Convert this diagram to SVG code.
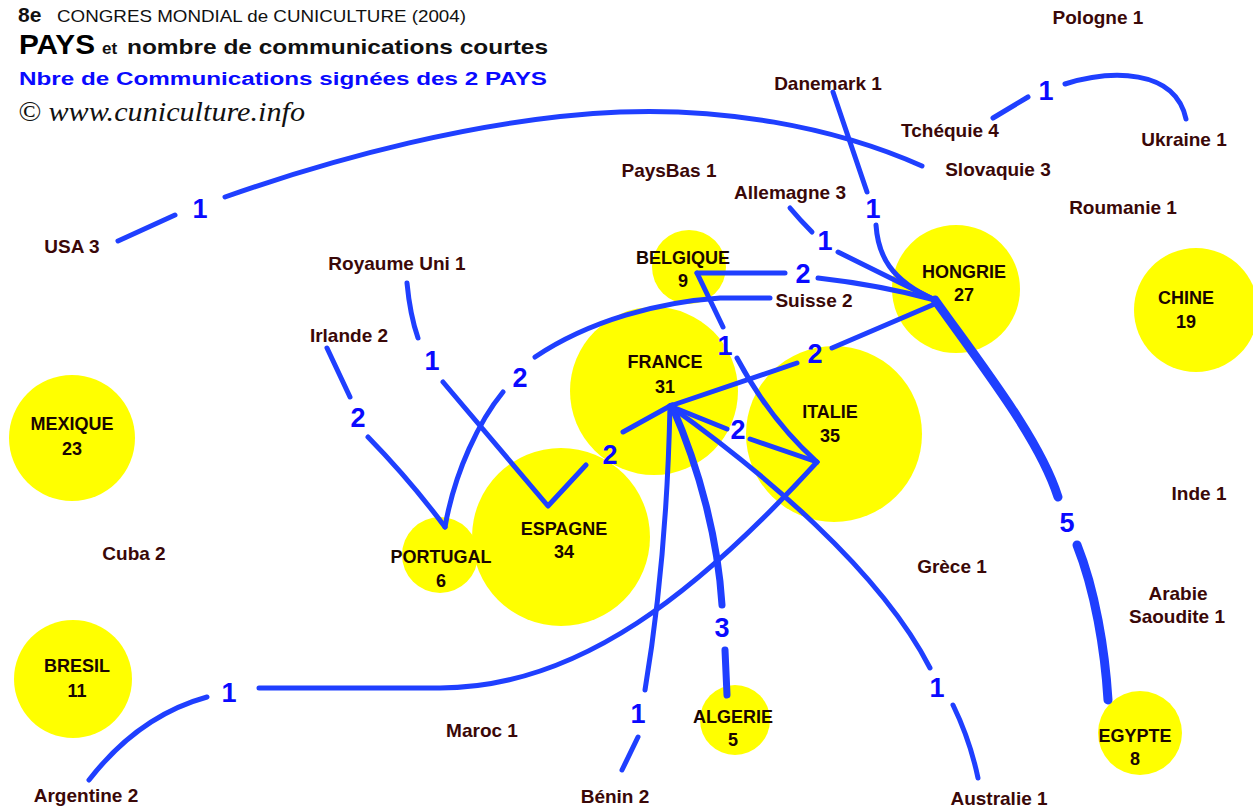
<svg xmlns="http://www.w3.org/2000/svg" width="1253" height="810" viewBox="0 0 1253 810">
<style>
.bg{fill:#ffffff}
.c{fill:#ffff00;stroke:none}
.cl{font-family:"Liberation Sans",Arial,sans-serif;font-weight:bold;font-size:18px;fill:#1a0500;text-anchor:middle}
.lb{font-family:"Liberation Sans",Arial,sans-serif;font-weight:bold;font-size:19px;fill:#3a0808;text-anchor:middle}
.e{fill:none;stroke:#1f3fff;stroke-width:5;stroke-linecap:round;stroke-linejoin:round}
.e7{stroke-width:7}
.e9{stroke-width:9}
.n{font-family:"Liberation Sans",Arial,sans-serif;font-weight:bold;font-size:27px;fill:#0a0aff;text-anchor:middle}
</style>
<rect class="bg" x="0" y="0" width="1253" height="810"/>

<g id="header">
  <text x="18" y="22" font-family="Liberation Sans,Arial,sans-serif" font-weight="bold" font-size="21" fill="#111">8e</text>
  <text x="57" y="22" font-family="Liberation Sans,Arial,sans-serif" font-size="17" fill="#111" textLength="409" lengthAdjust="spacingAndGlyphs">CONGRES MONDIAL de CUNICULTURE (2004)</text>
  <text x="19" y="54" font-family="Liberation Sans,Arial,sans-serif" font-weight="bold" font-size="28" fill="#000" textLength="76" lengthAdjust="spacingAndGlyphs">PAYS</text>
  <text x="102" y="54" font-family="Liberation Sans,Arial,sans-serif" font-weight="bold" font-size="17" fill="#111">et</text>
  <text x="127" y="54" font-family="Liberation Sans,Arial,sans-serif" font-weight="bold" font-size="21" fill="#111" textLength="421" lengthAdjust="spacingAndGlyphs">nombre de communications courtes</text>
  <text x="19" y="85" font-family="Liberation Sans,Arial,sans-serif" font-weight="bold" font-size="18" fill="#0a0aff" textLength="528" lengthAdjust="spacingAndGlyphs">Nbre de Communications signées des 2 PAYS</text>
  <text x="18" y="121" font-family="Liberation Serif,Times New Roman,serif" font-style="italic" font-size="27" fill="#111" textLength="287" lengthAdjust="spacingAndGlyphs">© www.cuniculture.info</text>
</g>

<g id="circles">
  <circle id="c-mexique" class="c" cx="72" cy="438" r="63"/>
  <circle id="c-bresil" class="c" cx="73" cy="679" r="59"/>
  <circle id="c-belgique" class="c" cx="689" cy="267" r="37"/>
  <circle id="c-france" class="c" cx="654" cy="391" r="84"/>
  <circle id="c-italie" class="c" cx="834" cy="434" r="88"/>
  <circle id="c-hongrie" class="c" cx="956" cy="289" r="64"/>
  <circle id="c-chine" class="c" cx="1196" cy="310" r="62"/>
  <circle id="c-espagne" class="c" cx="561" cy="537" r="89"/>
  <circle id="c-portugal" class="c" cx="440" cy="555" r="38"/>
  <circle id="c-algerie" class="c" cx="735" cy="720" r="35"/>
  <circle id="c-egypte" class="c" cx="1140" cy="733" r="42"/>
</g>

<g id="connectors">
  <path class="e" d="M118,241 L175,215"/>
  <path class="e" d="M225,197 C330,160 480,118 620,112 C720,108 830,125 922,166"/>
  <path class="e" d="M993,118 L1028,97"/>
  <path class="e" d="M1065,84 C1110,70 1175,68 1186,119"/>
  <path class="e" d="M833,92 L867,192"/>
  <path class="e" d="M876,225 C878,255 890,280 935,300"/>
  <path class="e" d="M790,208 Q800,220 812,232"/>
  <path class="e" d="M838,252 L935,300"/>
  <path class="e" d="M697,273 L785,273"/>
  <path class="e" d="M818,278 Q880,285 935,300"/>
  <path class="e" d="M697,273 L723,327"/>
  <path class="e" d="M737,358 Q770,420 817,462"/>
  <path class="e" d="M770,298 L720,298 C660,302 590,320 535,357"/>
  <path class="e" d="M503,392 C480,420 455,470 445,527"/>
  <path class="e" d="M327,348 L350,397"/>
  <path class="e" d="M368,437 Q410,480 445,527"/>
  <path class="e" d="M407,283 Q410,315 418,338"/>
  <path class="e" d="M443,382 L548,506 L586,465"/>
  <path class="e" d="M623,432 L670,406"/>
  <path class="e" d="M670,406 L797,363"/>
  <path class="e" d="M832,348 L937,303"/>
  <path class="e" d="M670,406 L727,429"/>
  <path class="e" d="M750,439 L817,462"/>
  <path class="e" d="M817,462 C700,590 580,688 440,688 L259,688"/>
  <path class="e" d="M207,697 C160,710 120,740 89,780"/>
  <path class="e" d="M670,406 C668,500 660,600 645,690"/>
  <path class="e" d="M638,737 L622,770"/>
  <path class="e e7" d="M672,406 C700,470 718,540 722,605"/>
  <path class="e e7" d="M725,650 L727,695"/>
  <path class="e" d="M670,406 C760,470 880,570 930,668"/>
  <path class="e" d="M953,705 Q970,740 978,778"/>
  <path class="e e9" d="M935,300 C985,370 1040,440 1058,497"/>
  <path class="e e9" d="M1077,545 C1095,590 1105,650 1108,700"/>
</g>

<g id="edge-labels">
  <text class="n" x="200" y="218">1</text>
  <text class="n" x="1046" y="100">1</text>
  <text class="n" x="873" y="218">1</text>
  <text class="n" x="825" y="250">1</text>
  <text class="n" x="803" y="283">2</text>
  <text class="n" x="725" y="355">1</text>
  <text class="n" x="520" y="387">2</text>
  <text class="n" x="358" y="427">2</text>
  <text class="n" x="432" y="370">1</text>
  <text class="n" x="610" y="464">2</text>
  <text class="n" x="815" y="363">2</text>
  <text class="n" x="738" y="439">2</text>
  <text class="n" x="229" y="702">1</text>
  <text class="n" x="638" y="723">1</text>
  <text class="n" x="722" y="637">3</text>
  <text class="n" x="937" y="697">1</text>
  <text class="n" x="1067" y="532">5</text>
</g>

<g id="n-mexique"><text class="cl" x="72" y="430">MEXIQUE</text><text class="cl" x="72" y="455">23</text></g>
<g id="n-bresil"><text class="cl" x="77" y="672">BRESIL</text><text class="cl" x="77" y="697">11</text></g>
<g id="n-belgique"><text class="cl" x="683" y="264">BELGIQUE</text><text class="cl" x="683" y="287">9</text></g>
<g id="n-france"><text class="cl" x="665" y="368">FRANCE</text><text class="cl" x="665" y="393">31</text></g>
<g id="n-italie"><text class="cl" x="830" y="418">ITALIE</text><text class="cl" x="830" y="442">35</text></g>
<g id="n-hongrie"><text class="cl" x="964" y="278">HONGRIE</text><text class="cl" x="964" y="301">27</text></g>
<g id="n-chine"><text class="cl" x="1186" y="304">CHINE</text><text class="cl" x="1186" y="328">19</text></g>
<g id="n-espagne"><text class="cl" x="564" y="535">ESPAGNE</text><text class="cl" x="564" y="558">34</text></g>
<g id="n-portugal"><text class="cl" x="441" y="563">PORTUGAL</text><text class="cl" x="441" y="587">6</text></g>
<g id="n-algerie"><text class="cl" x="733" y="723">ALGERIE</text><text class="cl" x="733" y="746">5</text></g>
<g id="n-egypte"><text class="cl" x="1135" y="742">EGYPTE</text><text class="cl" x="1135" y="765">8</text></g>

<g id="n-pologne"><text class="lb" x="1098" y="24">Pologne 1</text></g>
<g id="n-danemark"><text class="lb" x="828" y="90">Danemark 1</text></g>
<g id="n-tchequie"><text class="lb" x="950" y="137">Tchéquie 4</text></g>
<g id="n-ukraine"><text class="lb" x="1184" y="146">Ukraine 1</text></g>
<g id="n-slovaquie"><text class="lb" x="998" y="176">Slovaquie 3</text></g>
<g id="n-paysbas"><text class="lb" x="669" y="177">PaysBas 1</text></g>
<g id="n-allemagne"><text class="lb" x="790" y="199">Allemagne 3</text></g>
<g id="n-roumanie"><text class="lb" x="1123" y="214">Roumanie 1</text></g>
<g id="n-usa"><text class="lb" x="72" y="253">USA 3</text></g>
<g id="n-royaume-uni"><text class="lb" x="397" y="270">Royaume Uni 1</text></g>
<g id="n-suisse"><text class="lb" x="814" y="307">Suisse 2</text></g>
<g id="n-irlande"><text class="lb" x="349" y="342">Irlande 2</text></g>
<g id="n-inde"><text class="lb" x="1199" y="500">Inde 1</text></g>
<g id="n-cuba"><text class="lb" x="134" y="560">Cuba 2</text></g>
<g id="n-grece"><text class="lb" x="952" y="573">Grèce 1</text></g>
<g id="n-arabie"><text class="lb" x="1178" y="600">Arabie</text><text class="lb" x="1177" y="623">Saoudite 1</text></g>
<g id="n-maroc"><text class="lb" x="482" y="737">Maroc 1</text></g>
<g id="n-argentine"><text class="lb" x="86" y="802">Argentine 2</text></g>
<g id="n-benin"><text class="lb" x="615" y="803">Bénin 2</text></g>
<g id="n-australie"><text class="lb" x="999" y="805">Australie 1</text></g>
</svg>
